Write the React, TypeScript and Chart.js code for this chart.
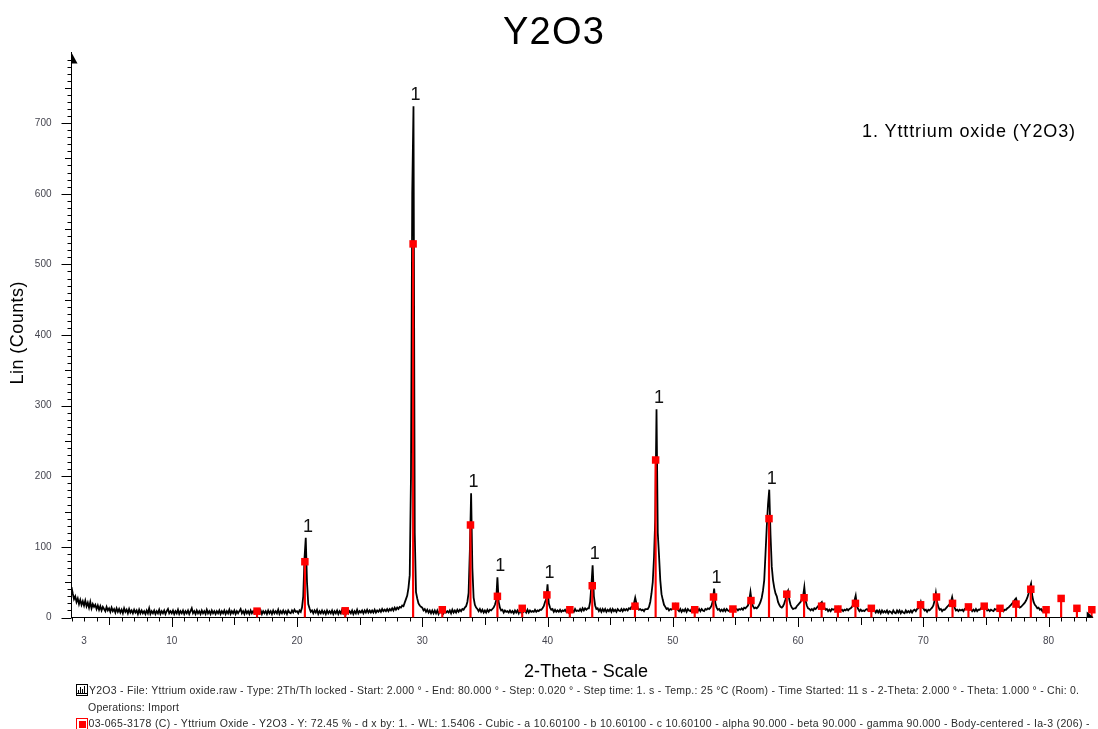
import React, { useEffect, useRef } from "react";
import { Chart, registerables } from "chart.js";

Chart.register(...registerables);

// ---------- data ----------
const SCAN_STEP = 0.1; // degrees 2-theta between readings

const counts02to10 = [
  43, 34, 26, 30, 22, 27, 19, 25, 18, 23,
  17, 24, 16, 21, 14, 22, 13, 19, 15, 18,
  12, 17, 11, 16, 10, 15, 12, 9, 15, 10,
  13, 8, 14, 9, 12, 7, 13, 8, 12, 7,
  11, 6, 13, 8, 11, 6, 12, 7, 10, 6,
  11, 7, 10, 5, 11, 6, 10, 6, 9, 5,
  10, 6, 13, 5, 9, 6, 10, 5, 9, 6,
  11, 5, 9, 6, 10, 5, 9, 12, 6, 9,
];
const counts10to20 = [
  6, 10, 5, 9, 6, 11, 5, 9, 6, 10,
  5, 9, 6, 10, 5, 9, 13, 6, 9, 5,
  10, 6, 9, 5, 10, 6, 9, 5, 11, 6,
  9, 5, 10, 6, 9, 5, 9, 6, 10, 5,
  9, 6, 10, 5, 9, 6, 11, 5, 9, 6,
  10, 5, 9, 6, 9, 12, 6, 9, 5, 10,
  6, 9, 5, 10, 6, 9, 6, 10, 5, 9,
  6, 10, 5, 9, 6, 9, 5, 10, 6, 9,
  5, 10, 6, 9, 6, 11, 5, 9, 6, 10,
  6, 9, 5, 10, 7, 6, 10, 7, 11, 8,
];
const counts20to30 = [
  9, 6, 10, 8, 14, 30, 84, 113, 50, 19,
  13, 8, 10, 6, 10, 7, 11, 5, 9, 6,
  10, 6, 9, 5, 10, 6, 9, 6, 10, 5,
  9, 6, 10, 5, 9, 6, 11, 6, 9, 5,
  10, 6, 9, 6, 10, 5, 9, 6, 11, 6,
  9, 7, 10, 6, 10, 7, 11, 7, 10, 7,
  10, 7, 11, 7, 10, 8, 11, 8, 12, 9,
  11, 9, 12, 9, 12, 10, 13, 10, 14, 11,
  14, 12, 15, 14, 17, 16, 21, 26, 31, 42,
  60, 200, 600, 724, 120, 36, 27, 20, 17, 15,
];
const counts30to40 = [
  14, 10, 12, 8, 11, 7, 10, 6, 10, 6,
  10, 6, 10, 5, 9, 7, 10, 6, 10, 7,
  9, 7, 10, 6, 11, 7, 10, 7, 11, 8,
  11, 9, 12, 11, 14, 16, 22, 35, 95, 176,
  70, 28, 18, 14, 12, 9, 12, 8, 11, 7,
  10, 7, 11, 8, 11, 10, 12, 14, 18, 24,
  57, 22, 14, 10, 11, 7, 10, 8, 9, 7,
  10, 7, 9, 6, 10, 7, 10, 6, 11, 7,
  11, 8, 10, 7, 11, 7, 10, 8, 9, 8,
  11, 8, 10, 9, 11, 11, 13, 16, 22, 26,
];
const counts40to50 = [
  47, 20, 14, 11, 12, 8, 11, 8, 10, 8,
  11, 8, 10, 9, 11, 8, 10, 7, 11, 8,
  10, 8, 12, 9, 10, 9, 12, 9, 13, 10,
  13, 11, 13, 13, 22, 45, 74, 30, 17, 12,
  13, 9, 12, 8, 12, 9, 12, 8, 11, 9,
  12, 8, 12, 9, 11, 8, 12, 10, 9, 12,
  9, 12, 10, 12, 10, 13, 12, 15, 16, 20,
  28, 20, 14, 11, 12, 10, 11, 9, 12, 12,
  12, 15, 22, 34, 50, 85, 140, 295, 120, 88,
  53, 33, 25, 18, 15, 12, 13, 10, 12, 11,
];
const counts50to60 = [
  13, 14, 18, 12, 11, 9, 12, 8, 11, 9,
  12, 8, 12, 10, 9, 12, 10, 14, 11, 10,
  9, 12, 9, 12, 10, 9, 12, 11, 13, 12,
  14, 17, 24, 41, 20, 14, 11, 12, 9, 11,
  9, 12, 9, 12, 10, 9, 12, 11, 14, 12,
  11, 12, 10, 12, 11, 13, 11, 14, 13, 15,
  17, 24, 36, 22, 16, 13, 14, 13, 15, 18,
  22, 28, 38, 53, 90, 128, 160, 181, 118, 72,
  53, 42, 34, 30, 22, 18, 15, 14, 16, 20,
  26, 34, 38, 25, 18, 14, 12, 13, 13, 16,
];
const counts60to70 = [
  18, 20, 22, 26, 30, 43, 24, 17, 13, 12,
  10, 12, 10, 13, 12, 14, 16, 18, 20, 22,
  17, 14, 11, 12, 9, 11, 9, 12, 11, 12,
  11, 13, 15, 13, 10, 11, 9, 11, 10, 12,
  10, 12, 13, 15, 18, 24, 31, 16, 12, 9,
  11, 9, 10, 9, 11, 12, 10, 13, 15, 12,
  9, 10, 7, 10, 7, 10, 6, 10, 7, 9,
  7, 10, 6, 9, 8, 6, 10, 7, 6, 10,
  7, 10, 6, 9, 7, 6, 10, 7, 9, 7,
  10, 7, 10, 11, 9, 12, 13, 16, 22, 15,
];
const counts70to80 = [
  13, 10, 11, 8, 11, 10, 12, 14, 17, 24,
  35, 22, 15, 11, 12, 9, 11, 11, 13, 15,
  17, 19, 22, 29, 20, 14, 10, 11, 9, 11,
  10, 11, 9, 12, 13, 15, 14, 11, 12, 9,
  11, 9, 12, 9, 11, 11, 13, 14, 16, 15,
  13, 10, 11, 9, 11, 10, 9, 12, 11, 12,
  13, 14, 11, 12, 9, 11, 11, 13, 14, 16,
  18, 20, 22, 25, 27, 21, 16, 14, 15, 17,
  19, 21, 24, 28, 34, 42, 48, 30, 22, 18,
  16, 13, 14, 11, 12, 9, 11, 9, 11, 10,
  10,
];

// reference pattern 03-065-3178 (sticks)
const refTheta = [
  16.81, 20.63, 23.85, 29.27, 31.6, 33.85, 36.0, 37.98, 39.95, 41.78,
  43.57, 46.98, 48.63, 50.22, 51.75, 53.25, 54.8, 56.24, 57.68, 59.1,
  60.48, 61.88, 63.18, 64.58, 65.85, 69.78, 71.05, 72.33, 73.6, 74.86,
  76.12, 77.4, 78.58, 79.8, 81.0, 82.26, 83.45,
];
const refCounts = [
  9, 79, 9.5, 529, 11, 131, 30, 13, 32, 11,
  45, 16, 223, 16, 11, 29, 12, 24, 140, 33,
  28, 16, 12, 20, 13, 18, 29, 20, 15, 16,
  13, 19, 40, 11, 27, 13, 11,
];

const labelledPeaks = [20.68, 29.27, 33.9, 36.03, 39.95, 43.58, 48.7, 53.28, 57.7];
const peakLabel = "1";

const xTickLabels = [3, 10, 20, 30, 40, 50, 60, 70, 80];
const yTickLabels = [0, 100, 200, 300, 400, 500, 600, 700];
const X_MIN = 2;
const X_MAX = 83.52;
const Y_MAX = 800;

const TITLE = "Y2O3";
const X_TITLE = "2-Theta - Scale";
const Y_TITLE = "Lin (Counts)";
const PHASE_LEGEND = "1. Ytttrium oxide (Y2O3)";
const FOOT_SCAN =
  "Y2O3 - File: Yttrium oxide.raw - Type: 2Th/Th locked - Start: 2.000 ° - End: 80.000 ° - Step: 0.020 ° - Step time: 1. s - Temp.: 25 °C (Room) - Time Started: 11 s - 2-Theta: 2.000 ° - Theta: 1.000 ° - Chi: 0.";
const FOOT_OPS = "Operations: Import";
const FOOT_REF =
  "03-065-3178 (C) - Yttrium Oxide - Y2O3 - Y: 72.45 % - d x by: 1. - WL: 1.5406 - Cubic - a 10.60100 - b 10.60100 - c 10.60100 - alpha 90.000 - beta 90.000 - gamma 90.000 - Body-centered - Ia-3 (206) -";

const scanSegments: [number, number[]][] = [
  [2, counts02to10],
  [10, counts10to20],
  [20, counts20to30],
  [30, counts30to40],
  [40, counts40to50],
  [50, counts50to60],
  [60, counts60to70],
  [70, counts70to80],
];

const FONT = '"Liberation Sans", Arial, sans-serif';

function drawFitted(
  ctx: CanvasRenderingContext2D,
  text: string,
  x: number,
  y: number,
  size: number,
  width: number,
  align: "left" | "center"
) {
  ctx.font = `${size}px ${FONT}`;
  (ctx as any).letterSpacing = "0px";
  const w0 = ctx.measureText(text).width;
  const ls = text.length > 1 ? (width - w0) / (text.length - 1) : 0;
  (ctx as any).letterSpacing = `${ls}px`;
  ctx.textAlign = "left";
  ctx.fillText(text, align === "center" ? x - width / 2 : x, y);
  (ctx as any).letterSpacing = "0px";
}

export default function App() {
  const canvasRef = useRef<HTMLCanvasElement | null>(null);

  useEffect(() => {
    const canvas = canvasRef.current;
    if (!canvas) return;

    const scan = scanSegments.flatMap(([start, arr]) =>
      arr.map((c, i) => ({ x: Math.round((start + i * SCAN_STEP) * 100) / 100, y: c }))
    );
    const refPoints = refTheta.map((t, i) => ({ x: t, y: refCounts[i] }));

    const decor = {
      id: "xrdDecor",
      afterDraw(chart: any) {
        const { ctx, chartArea } = chart;
        const xs = chart.scales.x;
        const ys = chart.scales.y;
        ctx.save();
        // tick marks
        ctx.strokeStyle = "#000";
        ctx.lineWidth = 1;
        ctx.beginPath();
        for (let d = 2; d <= 83; d++) {
          const px = Math.round(xs.getPixelForValue(d)) + 0.5;
          const len = d % 10 === 0 ? 9.5 : d % 5 === 0 ? 7.5 : 4;
          ctx.moveTo(px, chartArea.bottom);
          ctx.lineTo(px, chartArea.bottom + len);
        }
        for (let v = 0; v < Y_MAX; v += 10) {
          const py = Math.round(ys.getPixelForValue(v)) + 0.5;
          const len = v % 100 === 0 ? 10 : v % 50 === 0 ? 6.5 : 4;
          ctx.moveTo(chartArea.left, py);
          ctx.lineTo(chartArea.left - len, py);
        }
        ctx.stroke();

        // half arrow heads
        ctx.fillStyle = "#000";
        ctx.beginPath();
        ctx.moveTo(chartArea.left, chartArea.top);
        ctx.lineTo(chartArea.left, chartArea.top + 11);
        ctx.lineTo(chartArea.left + 6, chartArea.top + 11);
        ctx.closePath();
        ctx.fill();
        ctx.beginPath();
        ctx.moveTo(chartArea.right + 1, chartArea.bottom);
        ctx.lineTo(chartArea.right - 6, chartArea.bottom);
        ctx.lineTo(chartArea.right - 6, chartArea.bottom - 6);
        ctx.closePath();
        ctx.fill();

        // peak labels
        ctx.fillStyle = "#111";
        ctx.textBaseline = "middle";
        ctx.textAlign = "center";
        ctx.font = `18px ${FONT}`;
        labelledPeaks.forEach((t) => {
          let top = 0;
          scan.forEach((p) => {
            if (Math.abs(p.x - t) <= 0.12 && p.y > top) top = p.y;
          });
          ctx.fillText(peakLabel, xs.getPixelForValue(t) + 2.5, ys.getPixelForValue(top) - 11);
        });

        // titles
        ctx.fillStyle = "#000";
        ctx.textBaseline = "alphabetic";
        drawFitted(ctx, TITLE, 553.5, 44, 38, 101, "center");
        drawFitted(ctx, X_TITLE, 524, 677, 18, 124, "left");
        drawFitted(ctx, PHASE_LEGEND, 862, 136.5, 18, 213, "left");
        ctx.save();
        ctx.translate(18.5, 333);
        ctx.rotate(-Math.PI / 2);
        ctx.textBaseline = "middle";
        drawFitted(ctx, Y_TITLE, 0, 0, 18, 103, "center");
        ctx.restore();

        // footer
        ctx.fillStyle = "#2a2a2a";
        ctx.textBaseline = "middle";
        drawFitted(ctx, FOOT_SCAN, 89, 691, 10.5, 990, "left");
        drawFitted(ctx, FOOT_OPS, 88, 708.5, 10.5, 91, "left");
        drawFitted(ctx, FOOT_REF, 88.5, 724, 10.5, 1001, "left");

        // footer icons
        ctx.lineWidth = 1;
        ctx.strokeStyle = "#000";
        ctx.fillStyle = "#fff";
        ctx.fillRect(76, 684, 12, 12);
        ctx.strokeRect(76.5, 684.5, 11, 11);
        ctx.beginPath();
        ctx.moveTo(78.5, 694);
        ctx.lineTo(78.5, 690);
        ctx.moveTo(80.5, 694);
        ctx.lineTo(80.5, 687);
        ctx.moveTo(82.5, 694);
        ctx.lineTo(82.5, 689);
        ctx.moveTo(84.5, 694);
        ctx.lineTo(84.5, 686);
        ctx.moveTo(77, 693.5);
        ctx.lineTo(87, 693.5);
        ctx.stroke();
        ctx.strokeStyle = "rgb(255,0,0)";
        ctx.strokeRect(76.5, 718.5, 11, 11);
        ctx.fillStyle = "rgb(255,0,0)";
        ctx.fillRect(79, 721, 7, 7);
        ctx.restore();
      },
    };

    const chart = new Chart(canvas, {
      type: "line",
      data: {
        datasets: [
          {
            type: "scatter",
            label: "ref markers",
            data: refPoints,
            pointStyle: "rect",
            pointRadius: 5.3,
            pointBackgroundColor: "rgb(255,0,0)",
            pointBorderWidth: 0,
            showLine: false,
            clip: false as any,
            order: 0,
          } as any,
          {
            type: "bar",
            label: "ref sticks",
            data: refPoints,
            backgroundColor: "rgb(255,0,0)",
            barThickness: 1.5,
            grouped: false,
            order: 1,
          } as any,
          {
            type: "line",
            label: "scan",
            data: scan,
            borderColor: "#000",
            borderWidth: 1.8,
            pointRadius: 0,
            tension: 0,
            fill: false,
            order: 2,
          } as any,
        ],
      },
      options: {
        animation: false,
        responsive: false,
        maintainAspectRatio: false,
        layout: { padding: { top: 52.5, right: 1, bottom: 71.5, left: 0 } },
        plugins: {
          legend: { display: false },
          tooltip: { enabled: false },
          title: { display: false },
        },
        scales: {
          x: {
            type: "linear",
            min: X_MIN,
            max: X_MAX,
            offset: false,
            afterBuildTicks: (s: any) => {
              const t = [];
              for (let d = 2; d <= 83; d++) t.push({ value: d });
              s.ticks = t;
            },
            afterFit: (s: any) => {
              s.height = 40;
            },
            grid: { display: false, drawTicks: true, tickLength: 18 },
            border: { display: true, color: "#000", width: 1 },
            ticks: {
              autoSkip: false,
              maxRotation: 0,
              minRotation: 0,
              padding: 0,
              color: "#45454f",
              font: { family: FONT, size: 10 },
              callback: (v: any) => (xTickLabels.includes(Number(v)) ? String(v) : ""),
            },
          },
          y: {
            type: "linear",
            min: 0,
            max: Y_MAX,
            afterBuildTicks: (s: any) => {
              const t = [];
              for (let v = 0; v <= Y_MAX; v += 10) t.push({ value: v });
              s.ticks = t;
            },
            afterFit: (s: any) => {
              s.width = 71.5;
            },
            grid: { display: false, drawTicks: true, tickLength: 20 },
            border: { display: true, color: "#000", width: 1 },
            ticks: {
              autoSkip: false,
              padding: 0,
              color: "#45454f",
              font: { family: FONT, size: 10 },
              callback: (v: any) => (yTickLabels.includes(Number(v)) ? String(v) : ""),
            },
          },
        },
      },
      plugins: [decor],
    } as any);

    return () => chart.destroy();
  }, []);

  return (
    <div style={{ position: "absolute", left: 0, top: 0, width: 1098, height: 729, background: "#fff" }}>
      <canvas ref={canvasRef} width={1098} height={729} style={{ display: "block" }} />
    </div>
  );
}
